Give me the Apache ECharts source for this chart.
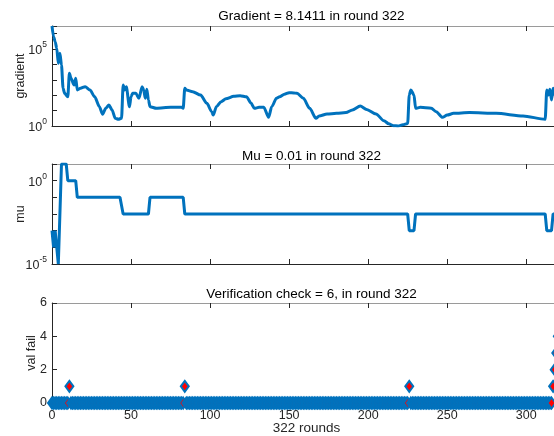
<!DOCTYPE html>
<html><head><meta charset="utf-8">
<script src="https://cdn.jsdelivr.net/npm/echarts@6/dist/echarts.min.js"></script>
<style>html,body{margin:0;padding:0;background:#fff;overflow:hidden;width:554px;height:436px;}#c{width:562px;height:436px;}</style>
</head><body><div id="c"></div>
<script>
const titles = ['Gradient = 8.1411 in round 322', 'Mu = 0.01 in round 322', 'Verification check = 6, in round 322'];
const yNames = ['gradient', 'mu', 'val fail'];
const xName = '322 rounds';
const lastRound = 322;

const gradRounds = [0,1,2,3,4,5,6,7,8,10,11,12,14,15,16,18,21,24,27,30,32,34,36,38,40,42,44,45,46,47,49,50,51,53,55,57,58,59,60,61,62,66,75,82,83,84,85,89,94,98,101,102,104,107,110,115,119,123,126,128,131,134,137,139,142,144,147,150,153,155,159,163,167,169,174,180,186,190,195,199,205,210,213,216,219,222,225,226,227,229,230,233,240,243,247,250,254,264,281,298,312,313,314,315,316,317,318,319,320,321,322];
const gradValues = [3.09e6,6.3e5,2.95e5,1.1e5,1.17e4,5.2e4,9100,282,132,79,2630,1260,457,1260,219,282,355,219,79,17.8,5.75,14.1,22.9,11,3.16,2.75,3.16,457,219,355,17.8,79,132,132,63,355,219,63,240,49,17.8,14.1,16.2,16.2,14.1,282,219,170,102,29.5,8.5,5.1,17.8,38,58,84,93,79,29.5,14.1,16.2,16.2,3.63,17.8,63,79,115,145,140,132,63,14.1,3.16,4.47,6.0,6.6,7.4,11,20,12,6.0,2.19,1.4,1.05,1.0,1.2,1.48,102,219,102,14.1,16.2,14.1,8.5,3.63,5.1,6.6,7.4,6.6,4.47,2.75,219,102,240,49,282,120,60,30,15,8.1411];

const muRounds = [0,1,2,3,4,5,6,9,10,15,16,43,45,61,62,83,84,225,226,229,230,312,313,316,317,322];
const muValues = [1e-3,1e-4,1e-3,1e-4,1e-5,1e-2,10,10,1,1,0.1,0.1,0.01,0.01,0.1,0.1,0.01,0.01,0.001,0.001,0.01,0.01,0.001,0.001,0.01,0.01];

const failRounds = [11,84,226,317,318,319,320,321,322];
const failValues = [1,1,1,1,2,3,4,5,6];

const F = 'Liberation Sans, Arial, sans-serif';
const BLUE = '#0072BD';
const TXT = '#262626';

const gradData = gradRounds.map((r, i) => [r, gradValues[i]]);
const muData = muRounds.map((r, i) => [r, muValues[i]]);
const valData = [];
for (let r = 0; r <= lastRound; r++) {
  const k = failRounds.indexOf(r);
  valData.push([r, k >= 0 ? failValues[k] : 0]);
}

const gridTops = [26, 164, 303];
const grids = gridTops.map(t => ({left: 52, top: t, width: 509, height: 100, containLabel: false}));

function xBottom(g, labels, name) {
  return {
    type: 'value', gridIndex: g, min: 0, max: lastRound, interval: 50, position: 'bottom',
    axisLine: {show: true, onZero: false, lineStyle: {color: TXT, width: 1}},
    axisTick: {show: true, inside: true, length: 5, lineStyle: {color: TXT}},
    axisLabel: {show: labels, margin: 6, color: TXT, fontSize: 12.5, fontFamily: F, showMaxLabel: false},
    splitLine: {show: false},
    name: name || '', nameLocation: 'middle', nameGap: 18, nameMoveOverlap: false,
    nameTextStyle: {color: TXT, fontSize: 13.5, fontFamily: F, verticalAlign: 'top'}
  };
}
function xTop(g) {
  return {
    type: 'value', gridIndex: g, min: 0, max: lastRound, interval: 50, position: 'top',
    axisLine: {show: true, onZero: false, lineStyle: {color: '#9a9a9a', width: 1}},
    axisTick: {show: true, inside: true, length: 5, lineStyle: {color: TXT}},
    axisLabel: {show: false}, splitLine: {show: false}
  };
}
const rich = {
  b: {fontSize: 12.5, fontFamily: F, color: TXT, verticalAlign: 'bottom'},
  s: {fontSize: 8.5, fontFamily: F, color: TXT, verticalAlign: 'top', padding: [0, 0, 8, 0]}
};
function logY(g, min, max, shown, name, gap) {
  return {
    type: 'log', logBase: 10, gridIndex: g, min: min, max: max, interval: 1,
    axisLine: {show: true, lineStyle: {color: TXT, width: 1}},
    axisTick: {show: true, inside: true, length: 5, lineStyle: {color: TXT}},
    minorTick: {show: false},
    axisLabel: {
      margin: 5, rich: rich,
      formatter: v => { const e = Math.round(Math.log10(v)); return shown.indexOf(e) >= 0 ? '{b|10}{s|' + e + '}' : ''; }
    },
    splitLine: {show: false},
    name: name, nameLocation: 'middle', nameGap: gap, nameRotate: 90, nameMoveOverlap: false,
    nameTextStyle: {color: TXT, fontSize: 12.5, fontFamily: F}
  };
}

const chart = echarts.init(document.getElementById('c'), null, {renderer: 'canvas'});
chart.setOption({
  animation: false,
  backgroundColor: '#fff',
  title: titles.map((t, i) => ({
    text: t, left: 306.5, textAlign: 'center', top: [4, 144, 282][i],
    textStyle: {color: '#000', fontSize: 13.5, fontWeight: 'normal', fontFamily: F}
  })),
  grid: grids,
  xAxis: [xBottom(0, false), xTop(0), xBottom(1, false), xTop(1), xBottom(2, true, xName), xTop(2)],
  yAxis: [
    logY(0, 1, 3.1e6, [0, 5], yNames[0], 25),
    logY(1, 1e-5, 10, [0, -5], yNames[1], 25),
    {
      type: 'value', gridIndex: 2, min: 0, max: 6, interval: 2,
      axisLine: {show: true, lineStyle: {color: TXT, width: 1}},
      axisTick: {show: true, inside: true, length: 5, lineStyle: {color: TXT}},
      axisLabel: {margin: 5, color: TXT, fontSize: 12.5, fontFamily: F},
      splitLine: {show: false},
      name: yNames[2], nameLocation: 'middle', nameGap: 14, nameRotate: 90, nameMoveOverlap: false,
      nameTextStyle: {color: TXT, fontSize: 12.5, fontFamily: F}
    }
  ],
  series: [
    {type: 'line', xAxisIndex: 0, yAxisIndex: 0, data: gradData, showSymbol: false, silent: true,
     smooth: 0.25, smoothMonotone: 'x',
     lineStyle: {color: BLUE, width: 3}, itemStyle: {color: BLUE}},
    {type: 'line', xAxisIndex: 2, yAxisIndex: 1, data: muData, showSymbol: false, silent: true,
     lineStyle: {color: BLUE, width: 3}, itemStyle: {color: BLUE}},
    {type: 'scatter', xAxisIndex: 4, yAxisIndex: 2, data: valData, silent: true,
     symbol: 'diamond', symbolSize: [8, 11], large: false, progressive: 0,
     itemStyle: {color: '#FF0000', borderColor: BLUE, borderWidth: 2, opacity: 1}}
  ]
});
</script></body></html>
